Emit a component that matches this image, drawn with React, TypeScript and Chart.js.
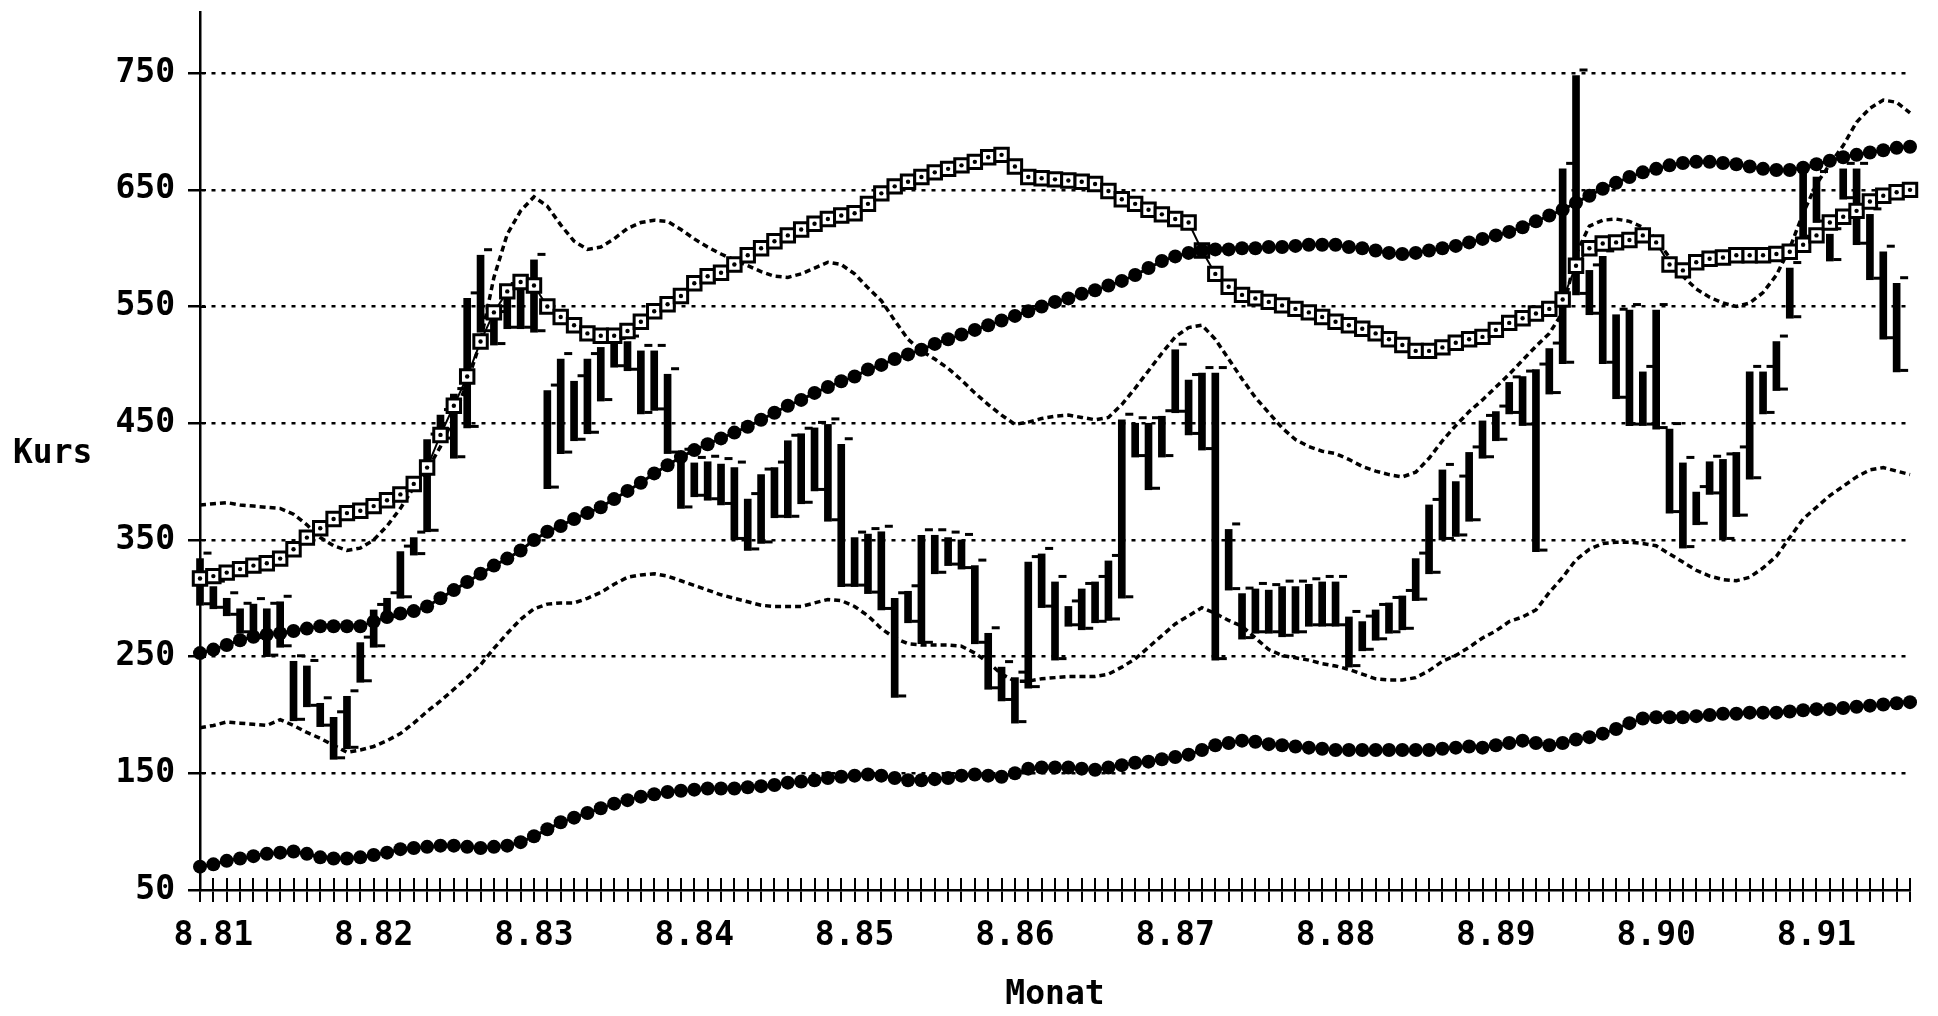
import React, { useEffect, useRef } from "react";
import { Chart, registerables } from "chart.js";

Chart.register(...registerables);

// Tick labels shown on the x axis (one per year, August)
const YEAR_TICKS = ["8.81", "8.82", "8.83", "8.84", "8.85", "8.86", "8.87", "8.88", "8.89", "8.90", "8.91"];
const Y_TICKS = [50, 150, 250, 350, 450, 550, 650, 750];

// Monthly categories: 7.81 ... 3.92
const MONTHS: string[] = [];
for (let k = 0; k < 129; k++) {
  const m = ((6 + k) % 12) + 1;
  const y = 81 + Math.floor((6 + k) / 12);
  MONTHS.push(`${m}.${y}`);
}

// Monthly price range bars (low / high)
const BAR_LOW: (number | null)[] = [
  294, 291, 285, 270, 265, 250, 258, 195, 207, 190,
  162, 171, 228, 258, 283, 300, 337, 357, 436, 420,
  446, 528, 517, 531, 531, 528, 394, 424, 435, 441,
  469, 498, 495, 458, 461, 424, 377, 387, 384, 380,
  350, 341, 347, 369, 369, 381, 392, 366, 310, 310,
  304, 290, 215, 279, 261, 321, 328, 325, 261, 222,
  212, 193, 223, 292, 247, 276, 273, 279, 281, 300,
  421, 393, 421, 459, 440, 427, 247, 307, 265, 270,
  270, 267, 270, 276, 276, 276, 241, 255, 264, 270,
  273, 298, 321, 350, 353, 366, 420, 435, 458, 448,
  340, 475, 501, 560, 543, 501, 471, 448, 448, 445,
  373, 343, 363, 389, 350, 370, 402, 458, 478, 540,
  609, 622, 589, 642, 603, 573, 522, 494, null,
];
const BAR_HIGH: (number | null)[] = [
  334, 310, 300, 291, 295, 291, 297, 246, 242, 210,
  198, 216, 262, 290, 300, 340, 352, 436, 457, 475,
  557, 594, 541, 565, 566, 590, 478, 505, 486, 505,
  515, 518, 520, 512, 512, 492, 423, 416, 417, 415,
  412, 385, 406, 412, 435, 441, 446, 449, 432, 352,
  355, 357, 300, 306, 354, 354, 352, 350, 328, 270,
  241, 232, 331, 338, 314, 293, 308, 314, 332, 453,
  450, 450, 456, 513, 487, 493, 493, 359, 304, 308,
  307, 310, 310, 312, 314, 314, 284, 280, 290, 296,
  302, 334, 380, 410, 400, 425, 452, 460, 485, 490,
  496, 514, 668, 748, 581, 593, 543, 547, 494, 547,
  445, 416, 391, 417, 419, 425, 494, 494, 520, 583,
  665, 661, 612, 668, 668, 629, 597, 570, null,
];

// Upper band (dotted)
const UPPER_BAND = [
  380, 381, 382, 380, 379, 378, 377, 372, 363, 352,
  345, 341, 343, 350, 362, 377, 395, 410, 430, 455,
  485, 520, 575, 612, 632, 644, 636, 620, 606, 599,
  601, 608, 617, 622, 624, 623, 616, 608, 601, 595,
  590, 585, 580, 576, 575, 578, 583, 588, 586, 578,
  566, 555, 538, 522, 512, 505, 497, 487, 476, 466,
  457, 449, 451, 454, 456, 457, 455, 453, 455, 466,
  480, 495, 510, 524, 532, 534, 522, 505, 488, 472,
  459, 446, 436, 430, 426, 424, 419, 413, 409, 406,
  404, 408, 420, 435, 448, 460, 470, 481, 492, 504,
  516, 527, 545, 595, 619, 624, 625, 623, 618, 608,
  592, 576, 565, 558, 553, 550, 553, 562, 577, 600,
  630, 655, 672, 688, 708, 720, 727, 725, 716,
];

// Lower band (dotted)
const LOWER_BAND = [
  189, 191, 194, 193, 192, 191, 196, 191, 185, 180,
  174, 168, 170, 173, 178, 184, 193, 203, 212, 222,
  232, 243, 257, 270, 282, 291, 295, 296, 296, 300,
  305, 312, 318, 320, 321, 319, 315, 311, 307, 303,
  300, 297, 294, 293, 293, 293, 296, 299, 298, 293,
  285, 274, 266, 261, 260, 260, 260, 259, 253, 245,
  235, 229, 229, 231, 232, 233, 233, 233, 235, 241,
  248, 258, 268, 278, 285, 292, 287, 281, 276, 266,
  256, 251, 249, 247, 244, 242, 239, 235, 231, 230,
  230, 232, 238, 246, 251, 258, 266, 272, 280, 284,
  290, 305, 318, 333, 342, 347, 348, 348, 347, 345,
  338, 331, 324, 319, 316, 315, 318, 326, 336, 352,
  368, 378, 388, 396, 404, 410, 412, 409, 406,
];

// Moving average with square markers
const AVG_SQUARE = [
  317, 319, 322, 325, 328, 330, 334, 342, 352, 360,
  368, 373, 375, 379, 384, 389, 398, 412, 440, 465,
  490, 520, 545, 563, 571, 568, 550, 541, 534, 527,
  525, 525, 529, 537, 546, 552, 559, 570, 576, 579,
  586, 594, 600, 606, 611, 616, 621, 625, 628, 630,
  638, 647, 653, 657, 661, 665, 668, 671, 674, 678,
  680, 670, 661, 660, 659, 658, 657, 655, 649, 642,
  638, 633, 629, 625, 622, 598, 578, 567, 560, 557,
  554, 551, 548, 545, 541, 537, 534, 531, 527, 522,
  517, 512, 512, 515, 519, 522, 524, 530, 536, 540,
  544, 548, 556, 585, 600, 604, 605, 607, 611, 605,
  586, 581, 588, 591, 592, 594, 594, 594, 595, 597,
  603, 611, 622, 627, 632, 640, 645, 648, 650,
];

// Long moving average (filled circles)
const AVG_LONG = [
  253, 256, 260, 264, 267, 269, 270, 272, 274, 276,
  276, 276, 276, 280, 284, 287, 289, 293, 300, 307,
  314, 321, 328, 334, 341, 350, 357, 362, 368, 373,
  378, 385, 392, 399, 407, 414, 421, 427, 432, 437,
  442, 447, 453, 459, 465, 470, 476, 481, 486, 490,
  496, 500, 505, 509, 513, 518, 522, 526, 530, 534,
  538, 542, 546, 550, 554, 557, 561, 564, 568, 572,
  577, 583, 589, 593, 596, 598, 599, 599, 600, 600,
  601, 601, 602, 603, 603, 603, 601, 600, 598, 596,
  595, 596, 598, 600, 602, 605, 608, 611, 614, 618,
  623, 628, 633, 639, 645, 651, 656, 661, 665, 668,
  671, 673, 674, 674, 673, 672, 670, 668, 667, 667,
  669, 672, 675, 678, 680, 682, 684, 686, 687,
];

// Lower line (filled circles)
const LOW_LINE = [
  70, 72, 75, 77, 79, 81, 82, 83, 81, 78,
  77, 77, 78, 80, 82, 85, 86, 87, 88, 88,
  87, 86, 87, 88, 91, 96, 102, 108, 112, 116,
  120, 124, 127, 130, 132, 134, 135, 136, 137, 137,
  137, 138, 139, 140, 142, 143, 144, 146, 147, 148,
  149, 148, 146, 144, 144, 145, 146, 148, 149, 148,
  147, 150, 154, 155, 155, 155, 154, 153, 155, 157,
  159, 160, 162, 164, 166, 170, 174, 176, 178, 177,
  175, 174, 173, 172, 171, 170, 170, 170, 170, 170,
  170, 170, 170, 171, 172, 173, 172, 174, 176, 178,
  176, 174, 176, 179, 181, 184, 188, 193, 197, 198,
  198, 198, 199, 200, 201, 201, 202, 202, 202, 203,
  204, 205, 205, 206, 207, 208, 209, 210, 211,
];

const FONT_FAMILY = '"DejaVu Sans Mono", "Liberation Mono", monospace';
const FONT = { family: FONT_FAMILY, size: 33, weight: "bold" as const };

const decorPlugin = {
  id: "decor",
  afterDatasetDraw(chart: any, args: any) {
    if (args.index !== 0) return;
    const ctx = chart.ctx;
    ctx.save();
    ctx.fillStyle = "#000";
    args.meta.data.forEach((el: any, i: number) => {
      if (BAR_LOW[i] == null) return;
      const p = el.getProps(["x", "y", "base", "width"], true);
      const top = Math.min(p.y, p.base);
      const bot = Math.max(p.y, p.base);
      const r = p.x + p.width / 2;
      ctx.fillRect(r, bot - 3, 8, 3);
      ctx.fillRect(r, top - 7, 8, 3);
    });
    ctx.restore();
  },
  afterDraw(chart: any) {
    const ctx = chart.ctx;
    const xs = chart.scales.x;
    const ys = chart.scales.y;
    const ca = chart.chartArea;
    ctx.save();
    ctx.strokeStyle = "#000";
    ctx.lineWidth = 2;
    ctx.beginPath();
    xs.ticks.forEach((_t: any, i: number) => {
      const px = Math.round(xs.getPixelForTick(i));
      ctx.moveTo(px, ca.bottom - 12);
      ctx.lineTo(px, ca.bottom);
    });
    ys.ticks.forEach((_t: any, i: number) => {
      const py = Math.round(ys.getPixelForTick(i));
      ctx.moveTo(ca.left, py);
      ctx.lineTo(ca.left + 6, py);
    });
    ctx.stroke();
    ctx.font = `bold 33px ${FONT_FAMILY}`;
    ctx.fillStyle = "#000";
    ctx.textAlign = "left";
    ctx.textBaseline = "middle";
    ctx.fillText("Kurs", 13, (ca.top + ca.bottom) / 2 + 3);
    ctx.restore();
  },
};

export default function App() {
  const ref = useRef<HTMLCanvasElement | null>(null);

  useEffect(() => {
    const canvas = ref.current;
    if (!canvas) return;
    const bars = BAR_LOW.map((lo, i) => (lo == null || BAR_HIGH[i] == null ? null : [lo, BAR_HIGH[i] as number]));
    const dotted = {
      type: "line",
      borderColor: "#000",
      borderWidth: 3.5,
      borderDash: [6, 4],
      pointRadius: 0,
      tension: 0,
      order: 5,
      clip: false,
    };
    const circles = {
      type: "line",
      borderColor: "#000",
      borderWidth: 3,
      pointStyle: "circle",
      pointRadius: 7,
      pointBorderWidth: 0,
      pointBackgroundColor: "#000",
      tension: 0,
      clip: false,
    };
    const chart = new Chart(canvas, {
      type: "bar",
      data: {
        labels: MONTHS,
        datasets: [
          {
            type: "bar",
            data: bars as any,
            backgroundColor: "#000",
            borderWidth: 0,
            barThickness: 7,
            order: 6,
            clip: false as any,
          },
          { ...dotted, data: UPPER_BAND },
          { ...dotted, data: LOWER_BAND },
          {
            type: "line",
            data: AVG_SQUARE,
            borderColor: "#000",
            borderWidth: 2,
            pointStyle: "rect",
            pointRadius: 9.5,
            pointBorderWidth: 3,
            pointBackgroundColor: "#fff",
            pointBorderColor: "#000",
            tension: 0,
            order: 4,
            clip: false as any,
          },
          {
            type: "line",
            data: AVG_SQUARE,
            showLine: false,
            pointStyle: "circle",
            pointRadius: 2.2,
            pointBorderWidth: 0,
            pointBackgroundColor: "#000",
            order: 3,
            clip: false as any,
          },
          { ...circles, data: AVG_LONG, order: 2 },
          { ...circles, data: LOW_LINE, order: 1 },
        ],
      },
      options: {
        responsive: false,
        animation: false,
        devicePixelRatio: 1,
        layout: { padding: { left: 0, top: 10, right: 28, bottom: 0 } },
        plugins: { legend: { display: false }, tooltip: { enabled: false } },
        scales: {
          x: {
            type: "category",
            offset: false,
            grid: {
              display: true,
              offset: false,
              drawOnChartArea: false,
              drawTicks: true,
              tickLength: 12,
              tickWidth: 2,
              tickColor: "#000",
              color: "#000",
              lineWidth: 2,
            },
            border: { display: true, color: "#000", width: 2.5 },
            ticks: {
              autoSkip: false,
              maxRotation: 0,
              minRotation: 0,
              padding: 15,
              color: "#000",
              font: FONT,
              callback: (_v: any, i: number) => (YEAR_TICKS.includes(MONTHS[i]) ? MONTHS[i] : ""),
            },
            title: {
              display: true,
              text: "Monat",
              color: "#000",
              font: FONT,
              padding: { top: 0, bottom: 1 },
            },
            afterFit: (s: any) => {
              s.height = 126;
              s.paddingLeft = 0;
              s.paddingRight = 0;
            },
          },
          y: {
            type: "linear",
            min: 50,
            max: 802,
            afterBuildTicks: (s: any) => {
              s.ticks = Y_TICKS.map((v) => ({ value: v }));
            },
            grid: {
              color: (c: any) => (c.tick && c.tick.value === 50 ? "rgba(0,0,0,0)" : "#000"),
              lineWidth: 2.5,
              drawTicks: true,
              tickLength: 12,
              tickColor: "#000",
              tickWidth: 2.5,
            },
            border: { display: true, color: "#000", width: 2.5, dash: [4, 6] },
            ticks: {
              padding: 13,
              color: "#000",
              font: FONT,
              callback: (v: any) => String(v),
            },
            afterFit: (s: any) => {
              s.width = 200;
              s.paddingTop = 0;
              s.paddingBottom = 0;
            },
          },
        },
      },
      plugins: [decorPlugin],
    } as any);
    return () => chart.destroy();
  }, []);

  return (
    <div style={{ position: "absolute", left: 0, top: 0, width: 1938, height: 1016, background: "#fff" }}>
      <canvas ref={ref} width={1938} height={1016} style={{ width: 1938, height: 1016, display: "block" }} />
    </div>
  );
}
